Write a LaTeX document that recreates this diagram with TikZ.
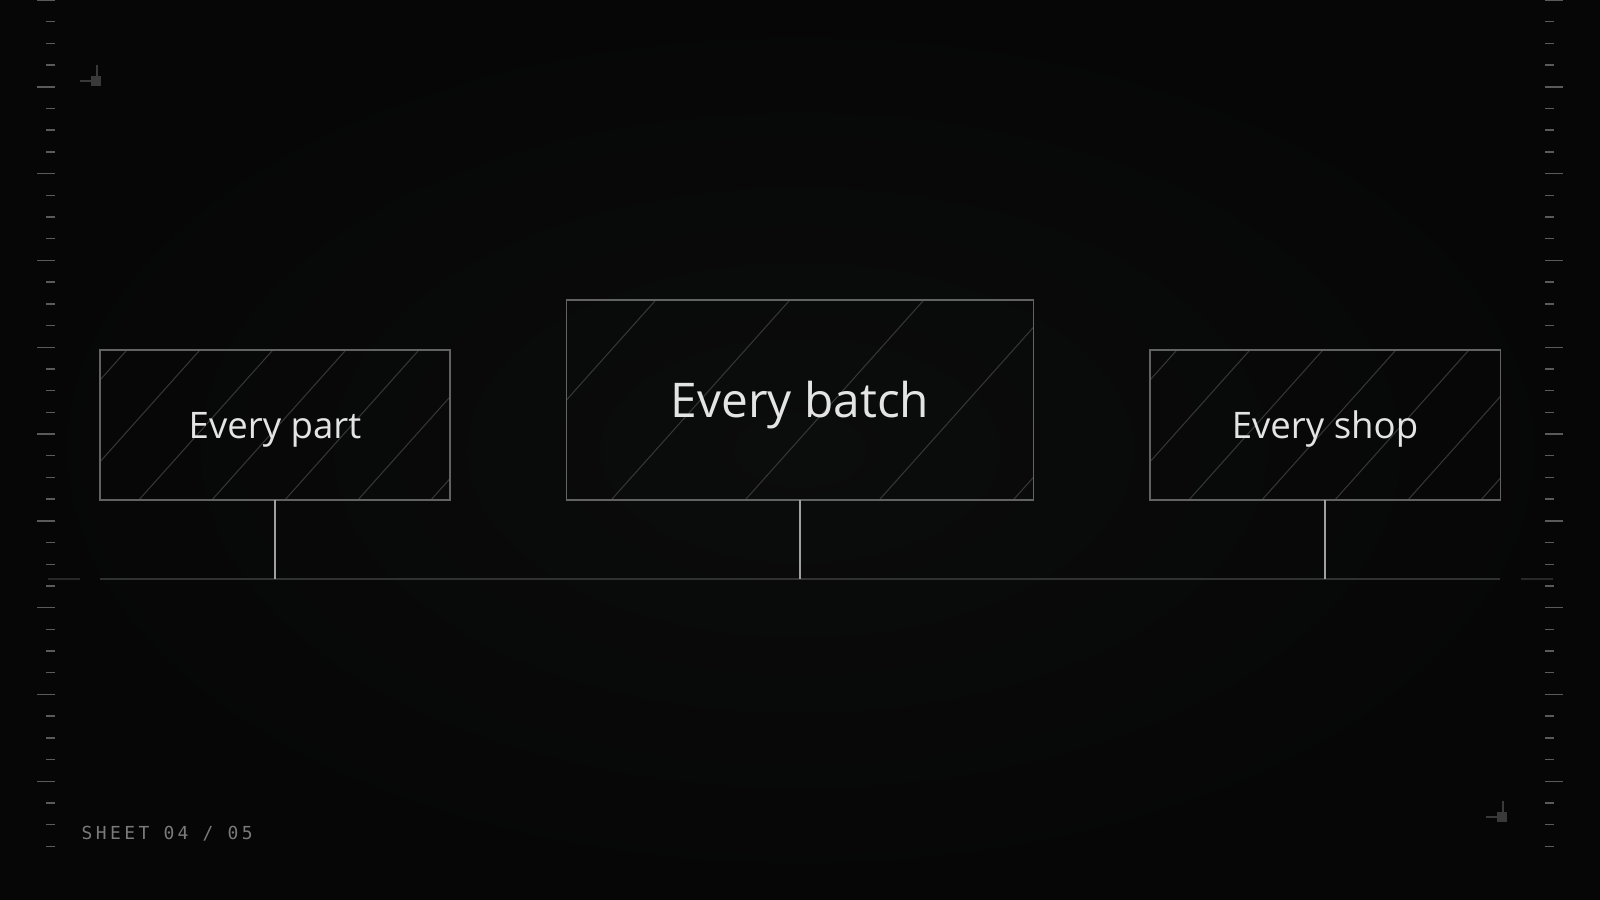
\documentclass[tikz,border=0pt]{standalone}
\usepackage{fontspec}
\setmainfont{Open Sans}
\newfontfamily\sheetfamily[LetterSpace=19]{DejaVu Sans Mono}
\usetikzlibrary{positioning}

\definecolor{bgmid}{HTML}{0B0C0C}
\definecolor{bgedge}{HTML}{060606}
\definecolor{tickgrey}{HTML}{5A5A5A}
\definecolor{panelline}{HTML}{626262}
\definecolor{hatchgrey}{HTML}{363636}
\definecolor{labeltext}{HTML}{E4E4E4}
\definecolor{stemgrey}{HTML}{A0A0A0}
\definecolor{axisgrey}{HTML}{303232}
\definecolor{sheetgrey}{HTML}{7A7A7A}

\newcommand{\smalllabel}{\fontsize{10.4pt}{12pt}\selectfont}
\newcommand{\biglabel}{\fontsize{13.6pt}{16pt}\selectfont}

\tikzset{
  tick/.style={draw=tickgrey, line width=0.4pt},
  cornerbox/.style={fill=tickgrey!120},
  cornerline/.style={draw=tickgrey!120, line width=0.4pt},
  hatchline/.style={draw=hatchgrey, line width=0.3pt},
  panel/.style n args={4}{draw=panelline, line width=0.35pt, inner sep=0pt, outer sep=0pt,
    minimum width=#1, minimum height=#2, text=labeltext, text depth=0pt,
    path picture={\foreach \k in {0,...,7}
      \draw[hatchline] (path picture bounding box.north west) ++({#3+#4*\k},0) -- ++(-360,403);}},
  axis/.style={draw=axisgrey, line width=0.35pt},
  axisend/.style={draw=tickgrey!130, line width=0.4pt},
  stem/.style={draw=stemgrey, line width=0.5pt},
  sheet/.style={text=sheetgrey, inner sep=0pt, font=\sheetfamily\fontsize{5.1pt}{6pt}\selectfont}
}

\begin{document}
\begin{tikzpicture}[x=0.01cm, y=-0.01cm]
    \useasboundingbox (0,0) rectangle (1600,900);
    \shade [inner color=bgmid, outer color=bgedge] (0,0) rectangle (1600,900);

    % rulers on both sides
    \foreach \i in {0,...,39}{
      \pgfmathsetmacro\len{mod(\i,4)==0 ? 18 : 9}
      \draw [tick] (55-\len,\i*21.7) -- (55,\i*21.7);
      \draw [tick] (1545,\i*21.7) -- (1545+\len,\i*21.7);
    }

    % corner marks
    \foreach \cx/\cy in {96/81, 1502/817}{
      \fill [cornerbox] (\cx-5,\cy-5) rectangle (\cx+5,\cy+5);
      \draw [cornerline] (\cx-16,\cy) -- (\cx-5,\cy);
      \draw [cornerline] (\cx+1,\cy-16) -- (\cx+1,\cy-5);
    }

    % axis line
    \coordinate (axisL) at (100,579);
    \coordinate (axisR) at (1500,579);
    \draw [axis] (axisL) -- (axisR);
    \draw [axisend] (48,579) -- (80,579);
    \draw [axisend] (1521,579) -- (1553,579);

    \node [panel={3.5cm}{1.5cm}{27}{73}, font=\smalllabel, text height=7.4pt] (part) at (275,425) {Every part};
    \node [panel={4.66cm}{2cm}{89}{134}, font=\biglabel, text height=9.7pt] (batch) at (800,400) {Every batch};
    \node [panel={3.5cm}{1.5cm}{27}{73}, font=\smalllabel, text height=7.4pt] (shop) at (1325,425) {Every shop};

    \foreach \n in {part, batch, shop}
      \draw [stem] (\n.south) -- (\n.south |- axisL);

    \node [sheet, anchor=base west] (sheetno) at (81,839) {SHEET 04 / 05};
\end{tikzpicture}
\end{document}
